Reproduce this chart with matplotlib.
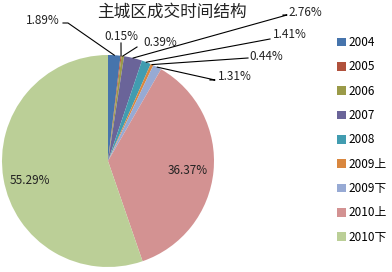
import matplotlib.pyplot as plt
import numpy as np
from matplotlib.patches import Patch

plt.rcParams['font.family'] = ['Noto Sans CJK SC', 'DejaVu Sans']

categories = ['2004', '2005', '2006', '2007', '2008', '2009上', '2009下', '2010上', '2010下']
shares = [1.89, 0.15, 0.39, 2.76, 1.41, 0.44, 1.31, 36.37, 55.29]
colors = ['#4674AC', '#B0513C', '#9A9A48', '#6A6499', '#419CB0',
          '#D9873F', '#97AAD4', '#D39292', '#BBCF97']

W, H = 392, 272
CX, CY, R = 108, 161, 106


def px(x, y):
    # pixel (from top-left) -> data coords of the pie axes
    return (x - CX) / R, (CY - y) / R


fig = plt.figure(figsize=(W / 100, H / 100), dpi=100)
ax = fig.add_axes([(CX - R) / W, (H - CY - R) / H, 2 * R / W, 2 * R / H])
wedges, _ = ax.pie(shares, colors=colors, startangle=90, counterclock=False,
                   radius=1, wedgeprops=dict(linewidth=0))
ax.set_xlim(-1, 1)
ax.set_ylim(-1, 1)
ax.set_aspect('equal')
ax.axis('off')

# wedge mid-angles on the rim
cum = np.cumsum([0] + shares[:-1])
mids = 90 - (cum + np.array(shares) / 2) / sum(shares) * 360
rim = [(np.cos(np.radians(a)), np.sin(np.radians(a))) for a in mids]

# outside labels: text centre, then leader line points from the text side
outside = {
    0: (43, 20, [(63, 23), (68, 23)]),
    1: (121, 37, [(121, 43)]),
    2: (160, 43, [(137, 47)]),
    3: (305, 12, [(283, 15), (287, 15)]),
    4: (290, 35, [(270, 39)]),
    5: (266, 56, [(248, 58)]),
    6: (235, 77, [(210, 80), (215, 80)]),
}
for i, (tx, ty, pts) in outside.items():
    x0, y0 = px(tx, ty)
    ax.text(x0, y0, f'{shares[i]:.2f}%', ha='center', va='center', fontsize=8.5,
            color='#222222', clip_on=False)
    line = [px(*p) for p in pts] + [rim[i]]
    xs, ys = zip(*line)
    ax.plot(xs, ys, color='black', linewidth=0.8, clip_on=False)

x, y = px(188, 170)
ax.text(x, y, f'{shares[7]:.2f}%', ha='center', va='center', fontsize=8.5, color='#222222')
x, y = px(30, 180)
ax.text(x, y, f'{shares[8]:.2f}%', ha='center', va='center', fontsize=8.5, color='#222222')

fig.text(172 / W, 1 - 12 / H, '主城区成交时间结构', ha='center', va='center',
         fontsize=12, color='#222222')

handles = [Patch(facecolor=c, edgecolor='none') for c in colors]
fig.legend(handles, categories, loc='upper left',
           bbox_to_anchor=(337 / W, 1 - 36 / H), frameon=False,
           fontsize=8.5, handlelength=0.75, handleheight=0.75,
           handletextpad=0.25, labelspacing=0.96, borderpad=0, borderaxespad=0)

fig.savefig('out.png', dpi=100)
